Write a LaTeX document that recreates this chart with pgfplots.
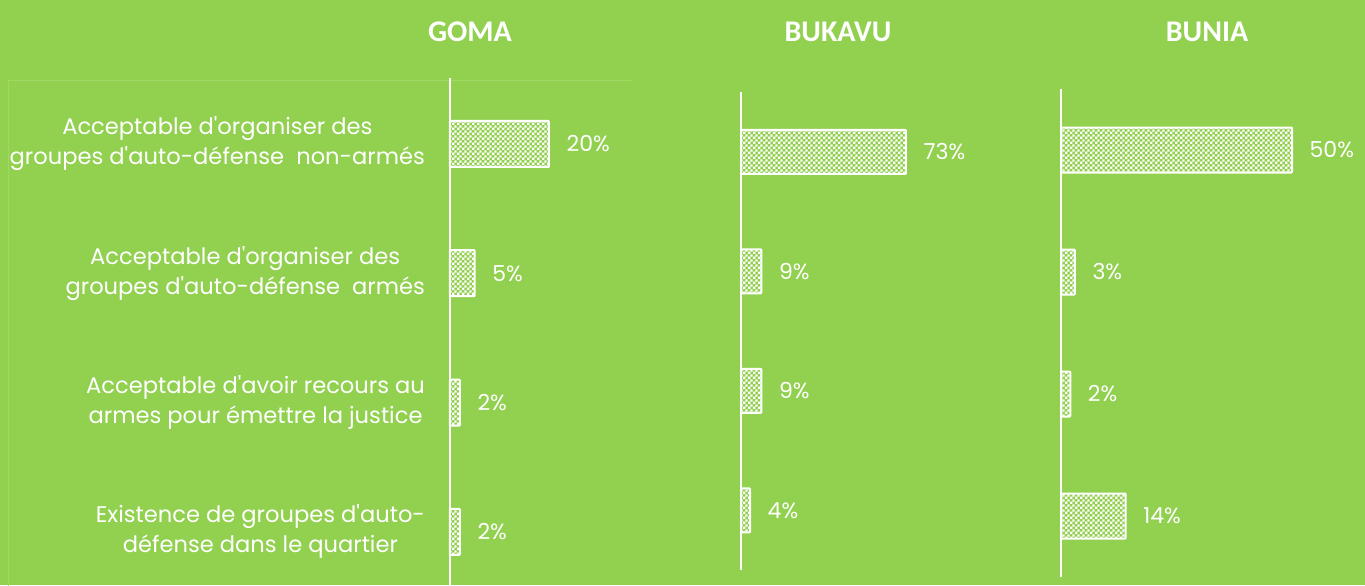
\documentclass[border=0pt]{standalone}
\usepackage{fontspec}
\usepackage{pgfplots}
\pgfplotsset{compat=1.18}
\usetikzlibrary{patterns.meta}
\newfontfamily\lab{Poppins}
\newfontfamily\ttl{Carlito}
\definecolor{bg}{RGB}{146,208,80}
\definecolor{frame}{RGB}{160,216,100}
\pgfdeclarepattern{name=finecheck, type=uncolored,
  bottom left={\pgfpointorigin}, top right={\pgfpoint{2.6pt}{2.6pt}},
  tile size={\pgfpoint{2.6pt}{2.6pt}},
  code={\pgfpathrectangle{\pgfpointorigin}{\pgfpoint{1.3pt}{1.3pt}}%
        \pgfpathrectangle{\pgfpoint{1.3pt}{1.3pt}}{\pgfpoint{1.3pt}{1.3pt}}%
        \pgfusepath{fill}}}
\pgfplotsset{
  common/.style={
    xbar, scale only axis, y dir=reverse, xmin=0,
    axis x line=none, axis y line*=left,
    y axis line style={-, white, line width=1pt},
    major tick length=0pt, clip=false, ytick=\empty,
    point meta=x,
    nodes near coords={\pgfmathprintnumber{\pgfplotspointmeta}\%},
    every node near coord/.append style={font=\lab\fontsize{11}{13}\selectfont, text=white, anchor=west, xshift=5pt},
    /pgf/number format/assume math mode=true,
  },
  barst/.style={draw=white, line width=1pt, rounded corners=0.4pt, pattern=finecheck, pattern color=white},
}
\begin{document}
\begin{tikzpicture}
\fill[bg] (0,0) rectangle (682.5pt,-292.5pt);
\useasboundingbox (0,0) rectangle (682.5pt,-292.5pt);
\clip (0,0) rectangle (682.5pt,-292.5pt);
\draw[frame, line width=0.5pt] (4pt,-293pt) -- (4pt,-40pt) -- (316pt,-40pt);
\node[text=white, font=\ttl\bfseries\fontsize{15}{18}\selectfont] at (235pt,-16pt) {GOMA};
\node[text=white, font=\ttl\bfseries\fontsize{15}{18}\selectfont] at (419pt,-16pt) {BUKAVU};
\node[text=white, font=\ttl\bfseries\fontsize{15}{18}\selectfont] at (603.5pt,-16pt) {BUNIA};

\begin{axis}[common, at={(225pt,-39pt)}, anchor=north west,
  width=89.1pt, height=253.4pt, xmax=36, ymin=-0.51, ymax=3.41, bar width=23pt,
  ytick={0,1,2,3},
  yticklabels={{Acceptable d'organiser des\\groupes d'auto-défense~ non-armés},
               {Acceptable d'organiser des\\groupes d'auto-défense~ armés},
               {Acceptable d'avoir recours au\\armes pour émettre la justice},
               {Existence de groupes d'auto-\\défense dans le quartier}},
  yticklabel style={font=\lab\fontsize{11.3}{15}\selectfont, text=white, align=center, xshift=-9pt}]
\addplot[barst] coordinates {(20,0) (5,1) (2,2) (2,3)};
\end{axis}

\begin{axis}[common, at={(370.5pt,-46.1pt)}, anchor=north west,
  width=113pt, height=239pt, xmax=100, ymin=-0.5, ymax=3.5, bar width=22pt]
\addplot[barst] coordinates {(73,0) (9,1) (9,2) (4,3)};
\end{axis}

\begin{axis}[common, at={(530.5pt,-44.5pt)}, anchor=north west,
  width=138.6pt, height=244pt, xmax=60, ymin=-0.5, ymax=3.5, bar width=22.5pt]
\addplot[barst] coordinates {(50,0) (3,1) (2,2) (14,3)};
\end{axis}
\end{tikzpicture}
\end{document}
